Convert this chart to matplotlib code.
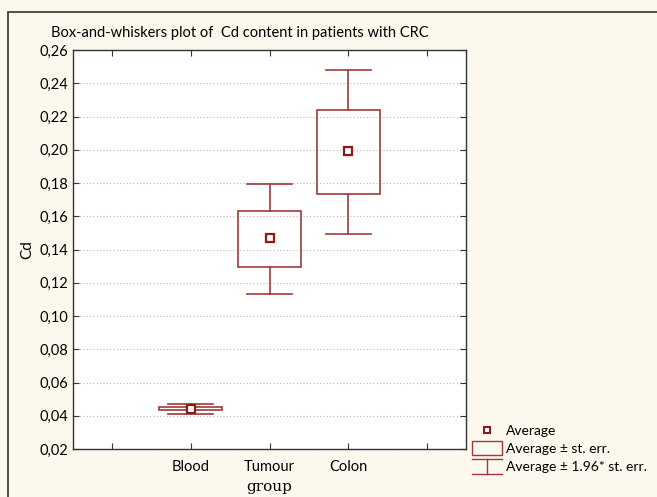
import matplotlib
matplotlib.use("Agg")
import matplotlib.pyplot as plt
from matplotlib.patches import Rectangle
from matplotlib.lines import Line2D
from matplotlib.ticker import FuncFormatter
from matplotlib.legend_handler import HandlerBase

groups = ["Blood", "Tumour", "Colon"]
means = [0.0443, 0.1469, 0.1992]
se_low = [0.0432, 0.1295, 0.1734]
se_high = [0.0455, 0.1632, 0.2239]
ci_low = [0.0410, 0.1132, 0.1493]
ci_high = [0.0470, 0.1794, 0.2480]
yticks = [0.02, 0.04, 0.06, 0.08, 0.10, 0.12, 0.14, 0.16, 0.18, 0.20, 0.22, 0.24, 0.26]

red = "#A0393B"
bg = "#FDF8EE"

plt.rcParams['font.family'] = ['Lato', 'DejaVu Sans']


class WhiskerHandle:
    pass


class HandlerWhisker(HandlerBase):
    def create_artists(self, legend, orig_handle, xdescent, ydescent, width, height, fontsize, trans):
        x0, x1 = -xdescent, -xdescent + width
        xm = (x0 + x1) / 2
        y0, y1 = -ydescent - 2, -ydescent + height + 2
        arts = [
            Line2D([x0, x1], [y1, y1], color=red, lw=1.0),
            Line2D([x0, x1], [y0, y0], color=red, lw=1.0),
            Line2D([xm, xm], [y0, y1], color=red, lw=1.0),
        ]
        for a in arts:
            a.set_transform(trans)
        return arts


class BoxHandle:
    pass


class HandlerBox(HandlerBase):
    def create_artists(self, legend, orig_handle, xdescent, ydescent, width, height, fontsize, trans):
        r = Rectangle((-xdescent, -ydescent - 1.5), width, height + 3, fill=False, edgecolor=red, lw=1.0)
        r.set_transform(trans)
        return [r]


fig = plt.figure(figsize=(6.57, 4.97), dpi=100, facecolor=bg)
fig.patches.append(Rectangle((8/657, -0.1), 1.2, (497-12)/497 + 0.1, transform=fig.transFigure,
                             fill=False, edgecolor="#333333", linewidth=1.2))
ax = fig.add_axes([73/657, 48/497, (466-73)/657, (449-50)/497])
ax.set_facecolor("white")

positions = [2, 3, 4]
bw = 0.8
cw = 0.57
for x, m, sl, sh, cl, ch in zip(positions, means, se_low, se_high, ci_low, ci_high):
    ax.add_patch(Rectangle((x - bw/2, sl), bw, sh - sl, fill=False, edgecolor=red, lw=1.2, zorder=3))
    ax.plot([x, x], [sh, ch], color=red, lw=1.2, zorder=3)
    ax.plot([x, x], [cl, sl], color=red, lw=1.2, zorder=3)
    ax.plot([x - cw/2, x + cw/2], [ch, ch], color=red, lw=1.2, zorder=3)
    ax.plot([x - cw/2, x + cw/2], [cl, cl], color=red, lw=1.2, zorder=3)
    ax.plot([x], [m], marker="s", ms=6, mfc="white", mec="#8B1A1A", mew=1.6, zorder=4)

ax.set_xlim(0.5, 5.5)
ax.set_ylim(0.02, 0.26)
ax.set_yticks(yticks)
ax.yaxis.set_major_formatter(FuncFormatter(lambda v, p: f"{v:.2f}".replace(".", ",")))
ax.set_xticks([1, 2, 3, 4, 5])
ax.set_xticklabels(["", "Blood", "Tumour", "Colon", ""])
ax.tick_params(axis="both", direction="in", length=4, labelsize=10.5, color="#333333",
               top=True, right=True)
ax.tick_params(axis="x", pad=8)
ax.grid(axis="y", linestyle=(0, (1, 2)), color="#BBBBBB", lw=0.8)
ax.set_axisbelow(True)
for s in ax.spines.values():
    s.set_color("#333333")
    s.set_linewidth(1.0)

ax.set_ylabel("Cd", fontsize=11)
ax.set_xlabel("group", fontsize=11, family="DejaVu Serif", labelpad=4)
fig.text(240/657, 1 - 33/497, "Box-and-whiskers plot of  Cd content in patients with CRC",
         ha="center", va="center", fontsize=10.5)

handles = [
    Line2D([], [], marker="s", ls="none", ms=5, mfc="white", mec="#8B1A1A", mew=1.5),
    BoxHandle(),
    WhiskerHandle(),
]
leg = fig.legend(handles, ["Average", "Average ± st. err.", "Average ± 1.96* st. err."],
                 handler_map={BoxHandle: HandlerBox(), WhiskerHandle: HandlerWhisker()},
                 loc="upper left", bbox_to_anchor=(466/657, 1 - 419/497), frameon=False,
                 fontsize=10, handlelength=2.2, labelspacing=0.45, handletextpad=0.3,
                 borderaxespad=0)

fig.savefig("out.png", dpi=100, facecolor=bg)
